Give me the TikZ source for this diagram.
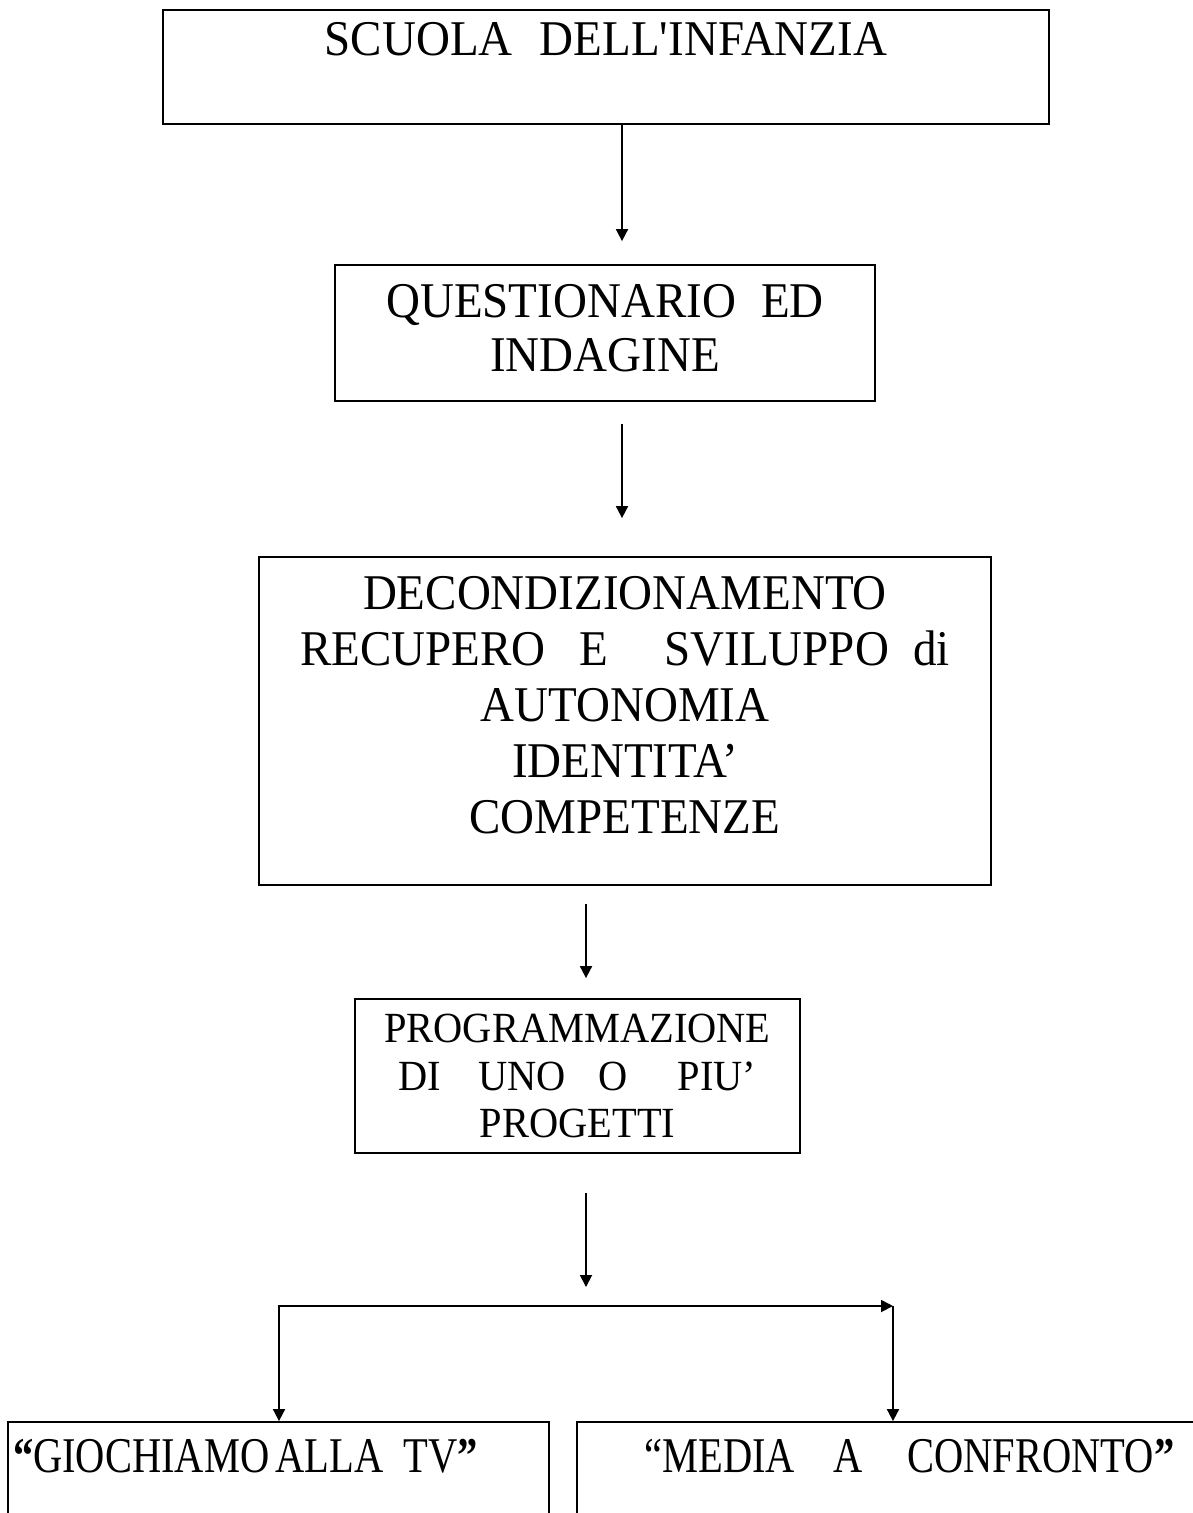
\documentclass[tikz,border=0pt]{standalone}
\usepackage{fontspec}
\setmainfont{Liberation Serif}[FakeStretch=0.94]
\newfontfamily\narrowfont{Liberation Serif}[FakeStretch=0.81]
\newfontfamily\progfont{Liberation Serif}[FakeStretch=0.94]
\usepackage{tikz}
\usetikzlibrary{arrows.meta,positioning}
\tikzstyle{flowbox} = [rectangle, draw=black, line width=1.8pt, inner sep=0pt, align=center, font=\fontsize{50}{56}\selectfont]
\tikzstyle{arrow} = [line width=1.8pt,-{Triangle[length=12pt,width=12pt]}]
\tikzstyle{branch} = [line width=1.8pt,{Triangle[length=12pt,width=12pt]}-{Triangle[length=12pt,width=12pt]}]

\begin{document}
\begin{tikzpicture}[x=1pt, y=-1pt]
\clip (0,0) rectangle (1193,1513);
\fill[white] (0,0) rectangle (1193,1513);

\node (scuola) [flowbox, minimum width=886pt, text height=45pt, text depth=69pt] at (606,67) {SCUOLA\hspace{27pt}DELL\textquotesingle INFANZIA};
\node (quest) [flowbox, minimum width=540pt, minimum height=136pt, font=\fontsize{50}{54}\selectfont] at (605,333) {QUESTIONARIO\hspace{25pt}ED\\INDAGINE\\[-44pt]\mbox{}};
\node (decond) [flowbox, minimum width=732pt, minimum height=328pt] at (625,721) {DECONDIZIONAMENTO\\RECUPERO\hspace{34pt}E\hspace{56pt}SVILUPPO\hspace{24pt}di\\AUTONOMIA\\IDENTITA’\\COMPETENZE\\[-24pt]\mbox{}};
\node (prog) [flowbox, minimum width=445pt, minimum height=154pt, font=\progfont\fontsize{43}{47.8}\selectfont] at (577.5,1076) {PROGRAMMAZIONE\\DI\hspace{37pt}UNO\hspace{33pt}O\hspace{50pt}PIU’\\PROGETTI};
\node (giochi) [flowbox, text width=531pt, inner xsep=5pt, align=left, text height=50pt, text depth=68pt, font=\narrowfont\fontsize{50}{56}\selectfont] at (278.5,1481) {{\bfseries “}GIOCHIAMO\hspace{6pt}ALLA\hspace{20pt}TV{\bfseries ”}};
\node (media) [flowbox, minimum width=665pt, text height=50pt, text depth=68pt, font=\narrowfont\fontsize{50}{56}\selectfont] at (909.5,1481) {“MEDIA\hspace{38pt}A\hspace{45pt}CONFRONTO{\bfseries ”}};

\coordinate (split) at (586,1287);
\coordinate (left) at (279,1306);
\coordinate (right) at (893,1306);

\draw [arrow] ([xshift=16pt]scuola.south) -- ([xshift=17pt,yshift=23pt]quest.north);
\draw [arrow] ([xshift=17pt,yshift=-22pt]quest.south) -- ([xshift=-3pt,yshift=38pt]decond.north);
\draw [arrow] ([xshift=-39pt,yshift=-18pt]decond.south) -- ([xshift=8.5pt,yshift=20pt]prog.north);
\draw [arrow] ([xshift=8.5pt,yshift=-39pt]prog.south) -- (split);
\draw [branch] (right) -- (left) -- (left |- giochi.north);
\draw [arrow] (right) -- (right |- media.north);
\end{tikzpicture}
\end{document}
